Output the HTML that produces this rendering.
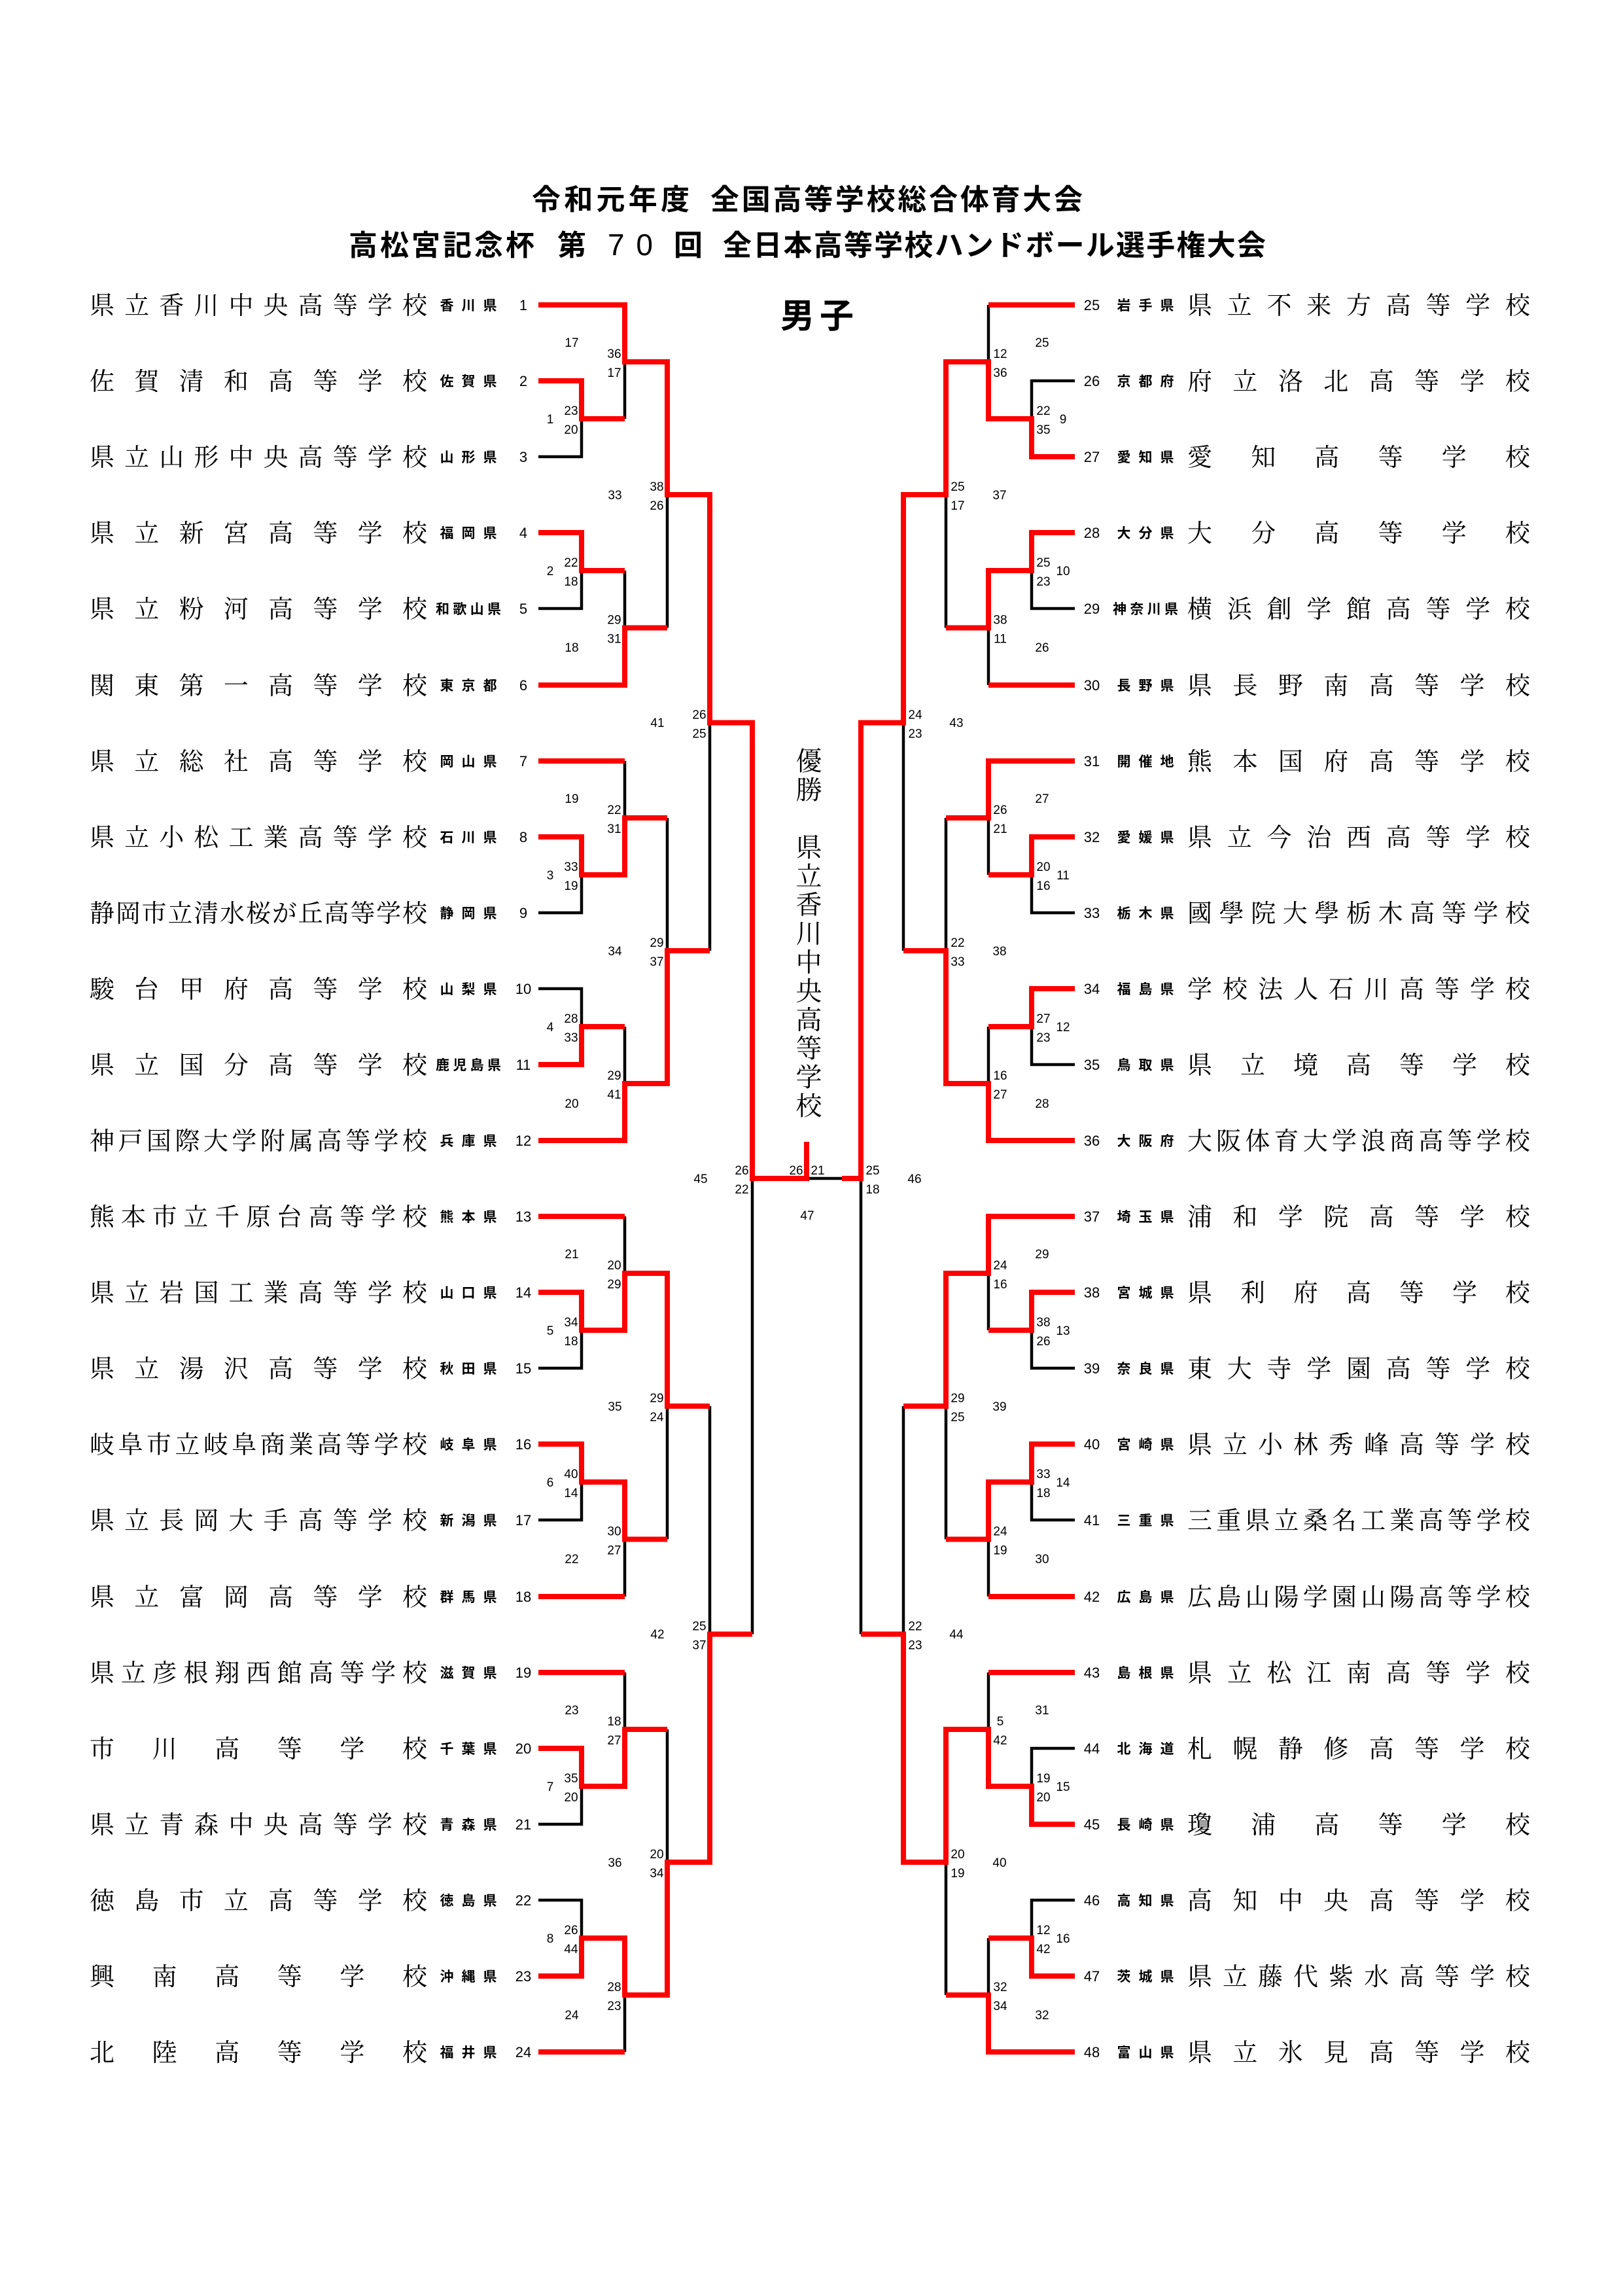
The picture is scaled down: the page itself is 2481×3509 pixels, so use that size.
<!DOCTYPE html>
<html lang="ja">
<head>
<meta charset="utf-8">
<style>
html,body{margin:0;padding:0;background:#fff;}
body{width:2481px;height:3509px;position:relative;overflow:hidden;}
svg{position:absolute;left:0;top:0;}
.nm{font-family:"Liberation Serif","Noto Serif CJK SC",serif;font-size:38px;fill:#000;}
.pf{font-family:"Liberation Sans","Noto Sans CJK JP",sans-serif;font-size:21px;font-weight:bold;fill:#000;text-anchor:middle;}
.rn{font-family:"Liberation Sans",sans-serif;font-size:22px;fill:#000;text-anchor:middle;}
.sc{font-family:"Liberation Sans",sans-serif;font-size:19px;fill:#000;text-anchor:middle;}
.tt{font-family:"Liberation Sans","Noto Sans CJK JP",sans-serif;font-size:44px;font-weight:bold;fill:#000;}
.win{position:absolute;left:1213px;top:1142px;width:40px;writing-mode:vertical-rl;text-orientation:upright;font-family:"Liberation Serif","Noto Serif CJK SC",serif;font-size:40px;line-height:40px;letter-spacing:3.9px;color:#000;white-space:nowrap;}
</style>
</head>
<body>
<svg width="2481" height="3509" viewBox="0 0 2481 3509" xmlns="http://www.w3.org/2000/svg">
<!-- Titles -->
<text class="tt" x="813" y="320" textLength="241" lengthAdjust="spacing">令和元年度</text>
<text class="tt" x="1086" y="320" textLength="569" lengthAdjust="spacing">全国高等学校総合体育大会</text>
<text class="tt" x="533" y="390" textLength="284" lengthAdjust="spacing">高松宮記念杯</text>
<text class="tt" x="852" y="390">第</text>
<text x="929" y="390" textLength="69" lengthAdjust="spacing" style="font-family:'Liberation Sans',sans-serif;font-size:46px;">70</text>
<text class="tt" x="1030" y="390">回</text>
<text class="tt" x="1105" y="390" textLength="830" lengthAdjust="spacing">全日本高等学校ハンドボール選手権大会</text>
<text class="tt" x="1193" y="501" textLength="112" lengthAdjust="spacing" style="font-size:52px;">男子</text>

<!-- Black lines -->
<path fill="none" stroke="#000" stroke-width="4.5" stroke-linejoin="miter" d="
M823 698H889V640 M955 640V553 M823 930H889V872 M955 872V959.5 M1020 959.5V756
M823 1395H889V1337 M955 1163V1250 M823 1511H889V1569 M955 1569V1656 M1020 1250V1453 M1085 1453V1104.5
M823 2091H889V2033 M955 1859V1946 M823 2323H889V2265 M955 2440V2352.5 M1020 2352.5V2149
M823 2788H889V2730 M955 2556V2643 M823 2904H889V2962 M955 3136V3049 M1020 2643V2846
M1085 2149V2497.5 M1150 2497.5V1801 M1233 1801H1290
M1643 582H1577V640 M1511 466V553 M1643 930H1577V872 M1511 1047V959.5 M1446 959.5V756
M1643 1395H1577V1337 M1511 1337V1250 M1643 1627H1577V1569 M1511 1569V1656 M1446 1250V1453 M1381 1453V1104.5
M1643 2091H1577V2033 M1511 2033V1946 M1643 2323H1577V2265 M1511 2440V2352.5 M1446 2352.5V2149
M1643 2672H1577V2730 M1511 2556V2643 M1643 2904H1577V2962 M1511 2962V3049 M1446 3049V2846
M1381 2149V2497.5 M1316 2497.5V1801
"/>
<!-- Red lines -->
<path fill="none" stroke="#ff0000" stroke-width="8" stroke-linejoin="miter" d="
M823 466H955V553H1020V756H1085V1104.5H1150V1801H1233V1745
M823 582H889V640H955
M823 814H889V872H955
M823 1047H955V959.5H1020
M823 1163H955
M823 1279H889V1337H955V1250H1020
M823 1627H889V1569H955
M823 1743H955V1656H1020V1453H1085
M823 1859H955
M823 1975H889V2033H955V1946H1020V2149H1085
M823 2207H889V2265H955V2352.5H1020
M823 2440H955
M823 2556H955
M823 2672H889V2730H955V2643H1020
M823 3020H889V2962H955V3049H1020V2846H1085V2497.5H1150
M823 3136H955
M1643 466H1511
M1643 698H1577V640H1511V553H1446V756H1381V1104.5H1316V1801H1287
M1643 814H1577V872H1511V959.5H1446
M1643 1047H1511
M1643 1163H1511V1250H1446
M1643 1279H1577V1337H1511
M1643 1511H1577V1569H1511
M1643 1743H1511V1656H1446V1453H1381
M1643 1859H1511V1946H1446V2149H1381
M1643 1975H1577V2033H1511
M1643 2207H1577V2265H1511V2352.5H1446
M1643 2440H1511
M1643 2556H1511
M1643 2788H1577V2730H1511V2643H1446V2846H1381V2497.5H1316
M1643 3020H1577V2962H1511
M1643 3136H1511V3049H1446
"/>

<!-- Left names -->
<text class="nm" x="137" y="480" textLength="516" lengthAdjust="spacing">県立香川中央高等学校</text>
<text class="nm" x="137" y="596" textLength="516" lengthAdjust="spacing">佐賀清和高等学校</text>
<text class="nm" x="137" y="712" textLength="516" lengthAdjust="spacing">県立山形中央高等学校</text>
<text class="nm" x="137" y="828" textLength="516" lengthAdjust="spacing">県立新宮高等学校</text>
<text class="nm" x="137" y="944" textLength="516" lengthAdjust="spacing">県立粉河高等学校</text>
<text class="nm" x="137" y="1061" textLength="516" lengthAdjust="spacing">関東第一高等学校</text>
<text class="nm" x="137" y="1177" textLength="516" lengthAdjust="spacing">県立総社高等学校</text>
<text class="nm" x="137" y="1293" textLength="516" lengthAdjust="spacing">県立小松工業高等学校</text>
<text class="nm" x="137" y="1409" textLength="516" lengthAdjust="spacing">静岡市立清水桜が丘高等学校</text>
<text class="nm" x="137" y="1525" textLength="516" lengthAdjust="spacing">駿台甲府高等学校</text>
<text class="nm" x="137" y="1641" textLength="516" lengthAdjust="spacing">県立国分高等学校</text>
<text class="nm" x="137" y="1757" textLength="516" lengthAdjust="spacing">神戸国際大学附属高等学校</text>
<text class="nm" x="137" y="1873" textLength="516" lengthAdjust="spacing">熊本市立千原台高等学校</text>
<text class="nm" x="137" y="1989" textLength="516" lengthAdjust="spacing">県立岩国工業高等学校</text>
<text class="nm" x="137" y="2105" textLength="516" lengthAdjust="spacing">県立湯沢高等学校</text>
<text class="nm" x="137" y="2221" textLength="516" lengthAdjust="spacing">岐阜市立岐阜商業高等学校</text>
<text class="nm" x="137" y="2337" textLength="516" lengthAdjust="spacing">県立長岡大手高等学校</text>
<text class="nm" x="137" y="2454" textLength="516" lengthAdjust="spacing">県立富岡高等学校</text>
<text class="nm" x="137" y="2570" textLength="516" lengthAdjust="spacing">県立彦根翔西館高等学校</text>
<text class="nm" x="137" y="2686" textLength="516" lengthAdjust="spacing">市川高等学校</text>
<text class="nm" x="137" y="2802" textLength="516" lengthAdjust="spacing">県立青森中央高等学校</text>
<text class="nm" x="137" y="2918" textLength="516" lengthAdjust="spacing">徳島市立高等学校</text>
<text class="nm" x="137" y="3034" textLength="516" lengthAdjust="spacing">興南高等学校</text>
<text class="nm" x="137" y="3150" textLength="516" lengthAdjust="spacing">北陸高等学校</text>

<!-- Left prefectures -->
<text class="pf" x="716" y="474" textLength="87" lengthAdjust="spacing">香川県</text>
<text class="pf" x="716" y="590" textLength="87" lengthAdjust="spacing">佐賀県</text>
<text class="pf" x="716" y="706" textLength="87" lengthAdjust="spacing">山形県</text>
<text class="pf" x="716" y="822" textLength="87" lengthAdjust="spacing">福岡県</text>
<text class="pf" x="716" y="938" textLength="100" lengthAdjust="spacing">和歌山県</text>
<text class="pf" x="716" y="1055" textLength="87" lengthAdjust="spacing">東京都</text>
<text class="pf" x="716" y="1171" textLength="87" lengthAdjust="spacing">岡山県</text>
<text class="pf" x="716" y="1287" textLength="87" lengthAdjust="spacing">石川県</text>
<text class="pf" x="716" y="1403" textLength="87" lengthAdjust="spacing">静岡県</text>
<text class="pf" x="716" y="1519" textLength="87" lengthAdjust="spacing">山梨県</text>
<text class="pf" x="716" y="1635" textLength="100" lengthAdjust="spacing">鹿児島県</text>
<text class="pf" x="716" y="1751" textLength="87" lengthAdjust="spacing">兵庫県</text>
<text class="pf" x="716" y="1867" textLength="87" lengthAdjust="spacing">熊本県</text>
<text class="pf" x="716" y="1983" textLength="87" lengthAdjust="spacing">山口県</text>
<text class="pf" x="716" y="2099" textLength="87" lengthAdjust="spacing">秋田県</text>
<text class="pf" x="716" y="2215" textLength="87" lengthAdjust="spacing">岐阜県</text>
<text class="pf" x="716" y="2331" textLength="87" lengthAdjust="spacing">新潟県</text>
<text class="pf" x="716" y="2448" textLength="87" lengthAdjust="spacing">群馬県</text>
<text class="pf" x="716" y="2564" textLength="87" lengthAdjust="spacing">滋賀県</text>
<text class="pf" x="716" y="2680" textLength="87" lengthAdjust="spacing">千葉県</text>
<text class="pf" x="716" y="2796" textLength="87" lengthAdjust="spacing">青森県</text>
<text class="pf" x="716" y="2912" textLength="87" lengthAdjust="spacing">徳島県</text>
<text class="pf" x="716" y="3028" textLength="87" lengthAdjust="spacing">沖縄県</text>
<text class="pf" x="716" y="3144" textLength="87" lengthAdjust="spacing">福井県</text>

<!-- Left row numbers -->
<text class="rn" x="800" y="474">1</text>
<text class="rn" x="800" y="590">2</text>
<text class="rn" x="800" y="706">3</text>
<text class="rn" x="800" y="822">4</text>
<text class="rn" x="800" y="938">5</text>
<text class="rn" x="800" y="1055">6</text>
<text class="rn" x="800" y="1171">7</text>
<text class="rn" x="800" y="1287">8</text>
<text class="rn" x="800" y="1403">9</text>
<text class="rn" x="800" y="1519">10</text>
<text class="rn" x="800" y="1635">11</text>
<text class="rn" x="800" y="1751">12</text>
<text class="rn" x="800" y="1867">13</text>
<text class="rn" x="800" y="1983">14</text>
<text class="rn" x="800" y="2099">15</text>
<text class="rn" x="800" y="2215">16</text>
<text class="rn" x="800" y="2331">17</text>
<text class="rn" x="800" y="2448">18</text>
<text class="rn" x="800" y="2564">19</text>
<text class="rn" x="800" y="2680">20</text>
<text class="rn" x="800" y="2796">21</text>
<text class="rn" x="800" y="2912">22</text>
<text class="rn" x="800" y="3028">23</text>
<text class="rn" x="800" y="3144">24</text>

<!-- Right row numbers -->
<text class="rn" x="1669" y="474">25</text>
<text class="rn" x="1669" y="590">26</text>
<text class="rn" x="1669" y="706">27</text>
<text class="rn" x="1669" y="822">28</text>
<text class="rn" x="1669" y="938">29</text>
<text class="rn" x="1669" y="1055">30</text>
<text class="rn" x="1669" y="1171">31</text>
<text class="rn" x="1669" y="1287">32</text>
<text class="rn" x="1669" y="1403">33</text>
<text class="rn" x="1669" y="1519">34</text>
<text class="rn" x="1669" y="1635">35</text>
<text class="rn" x="1669" y="1751">36</text>
<text class="rn" x="1669" y="1867">37</text>
<text class="rn" x="1669" y="1983">38</text>
<text class="rn" x="1669" y="2099">39</text>
<text class="rn" x="1669" y="2215">40</text>
<text class="rn" x="1669" y="2331">41</text>
<text class="rn" x="1669" y="2448">42</text>
<text class="rn" x="1669" y="2564">43</text>
<text class="rn" x="1669" y="2680">44</text>
<text class="rn" x="1669" y="2796">45</text>
<text class="rn" x="1669" y="2912">46</text>
<text class="rn" x="1669" y="3028">47</text>
<text class="rn" x="1669" y="3144">48</text>

<!-- Right prefectures -->
<text class="pf" x="1751" y="474" textLength="87" lengthAdjust="spacing">岩手県</text>
<text class="pf" x="1751" y="590" textLength="87" lengthAdjust="spacing">京都府</text>
<text class="pf" x="1751" y="706" textLength="87" lengthAdjust="spacing">愛知県</text>
<text class="pf" x="1751" y="822" textLength="87" lengthAdjust="spacing">大分県</text>
<text class="pf" x="1751" y="938" textLength="100" lengthAdjust="spacing">神奈川県</text>
<text class="pf" x="1751" y="1055" textLength="87" lengthAdjust="spacing">長野県</text>
<text class="pf" x="1751" y="1171" textLength="87" lengthAdjust="spacing">開催地</text>
<text class="pf" x="1751" y="1287" textLength="87" lengthAdjust="spacing">愛媛県</text>
<text class="pf" x="1751" y="1403" textLength="87" lengthAdjust="spacing">栃木県</text>
<text class="pf" x="1751" y="1519" textLength="87" lengthAdjust="spacing">福島県</text>
<text class="pf" x="1751" y="1635" textLength="87" lengthAdjust="spacing">鳥取県</text>
<text class="pf" x="1751" y="1751" textLength="87" lengthAdjust="spacing">大阪府</text>
<text class="pf" x="1751" y="1867" textLength="87" lengthAdjust="spacing">埼玉県</text>
<text class="pf" x="1751" y="1983" textLength="87" lengthAdjust="spacing">宮城県</text>
<text class="pf" x="1751" y="2099" textLength="87" lengthAdjust="spacing">奈良県</text>
<text class="pf" x="1751" y="2215" textLength="87" lengthAdjust="spacing">宮崎県</text>
<text class="pf" x="1751" y="2331" textLength="87" lengthAdjust="spacing">三重県</text>
<text class="pf" x="1751" y="2448" textLength="87" lengthAdjust="spacing">広島県</text>
<text class="pf" x="1751" y="2564" textLength="87" lengthAdjust="spacing">島根県</text>
<text class="pf" x="1751" y="2680" textLength="87" lengthAdjust="spacing">北海道</text>
<text class="pf" x="1751" y="2796" textLength="87" lengthAdjust="spacing">長崎県</text>
<text class="pf" x="1751" y="2912" textLength="87" lengthAdjust="spacing">高知県</text>
<text class="pf" x="1751" y="3028" textLength="87" lengthAdjust="spacing">茨城県</text>
<text class="pf" x="1751" y="3144" textLength="87" lengthAdjust="spacing">富山県</text>

<!-- Right names -->
<text class="nm" x="1815" y="480" textLength="524" lengthAdjust="spacing">県立不来方高等学校</text>
<text class="nm" x="1815" y="596" textLength="524" lengthAdjust="spacing">府立洛北高等学校</text>
<text class="nm" x="1815" y="712" textLength="524" lengthAdjust="spacing">愛知高等学校</text>
<text class="nm" x="1815" y="828" textLength="524" lengthAdjust="spacing">大分高等学校</text>
<text class="nm" x="1815" y="944" textLength="524" lengthAdjust="spacing">横浜創学館高等学校</text>
<text class="nm" x="1815" y="1061" textLength="524" lengthAdjust="spacing">県長野南高等学校</text>
<text class="nm" x="1815" y="1177" textLength="524" lengthAdjust="spacing">熊本国府高等学校</text>
<text class="nm" x="1815" y="1293" textLength="524" lengthAdjust="spacing">県立今治西高等学校</text>
<text class="nm" x="1815" y="1409" textLength="524" lengthAdjust="spacing">國學院大學栃木高等学校</text>
<text class="nm" x="1815" y="1525" textLength="524" lengthAdjust="spacing">学校法人石川高等学校</text>
<text class="nm" x="1815" y="1641" textLength="524" lengthAdjust="spacing">県立境高等学校</text>
<text class="nm" x="1815" y="1757" textLength="524" lengthAdjust="spacing">大阪体育大学浪商高等学校</text>
<text class="nm" x="1815" y="1873" textLength="524" lengthAdjust="spacing">浦和学院高等学校</text>
<text class="nm" x="1815" y="1989" textLength="524" lengthAdjust="spacing">県利府高等学校</text>
<text class="nm" x="1815" y="2105" textLength="524" lengthAdjust="spacing">東大寺学園高等学校</text>
<text class="nm" x="1815" y="2221" textLength="524" lengthAdjust="spacing">県立小林秀峰高等学校</text>
<text class="nm" x="1815" y="2337" textLength="524" lengthAdjust="spacing">三重県立桑名工業高等学校</text>
<text class="nm" x="1815" y="2454" textLength="524" lengthAdjust="spacing">広島山陽学園山陽高等学校</text>
<text class="nm" x="1815" y="2570" textLength="524" lengthAdjust="spacing">県立松江南高等学校</text>
<text class="nm" x="1815" y="2686" textLength="524" lengthAdjust="spacing">札幌静修高等学校</text>
<text class="nm" x="1815" y="2802" textLength="524" lengthAdjust="spacing">瓊浦高等学校</text>
<text class="nm" x="1815" y="2918" textLength="524" lengthAdjust="spacing">高知中央高等学校</text>
<text class="nm" x="1815" y="3034" textLength="524" lengthAdjust="spacing">県立藤代紫水高等学校</text>
<text class="nm" x="1815" y="3150" textLength="524" lengthAdjust="spacing">県立氷見高等学校</text>

<!-- Left scores col1 -->
<text class="sc" x="873" y="634">23</text><text class="sc" x="873" y="663">20</text>
<text class="sc" x="873" y="866">22</text><text class="sc" x="873" y="895">18</text>
<text class="sc" x="873" y="1331">33</text><text class="sc" x="873" y="1360">19</text>
<text class="sc" x="873" y="1563">28</text><text class="sc" x="873" y="1592">33</text>
<text class="sc" x="873" y="2027">34</text><text class="sc" x="873" y="2056">18</text>
<text class="sc" x="873" y="2259">40</text><text class="sc" x="873" y="2288">14</text>
<text class="sc" x="873" y="2724">35</text><text class="sc" x="873" y="2753">20</text>
<text class="sc" x="873" y="2956">26</text><text class="sc" x="873" y="2985">44</text>
<!-- Left scores col2 -->
<text class="sc" x="939" y="547">36</text><text class="sc" x="939" y="576">17</text>
<text class="sc" x="939" y="953.5">29</text><text class="sc" x="939" y="982.5">31</text>
<text class="sc" x="939" y="1244">22</text><text class="sc" x="939" y="1273">31</text>
<text class="sc" x="939" y="1650">29</text><text class="sc" x="939" y="1679">41</text>
<text class="sc" x="939" y="1940">20</text><text class="sc" x="939" y="1969">29</text>
<text class="sc" x="939" y="2346.5">30</text><text class="sc" x="939" y="2375.5">27</text>
<text class="sc" x="939" y="2637">18</text><text class="sc" x="939" y="2666">27</text>
<text class="sc" x="939" y="3043">28</text><text class="sc" x="939" y="3072">23</text>
<!-- Left scores col3 -->
<text class="sc" x="1004" y="750">38</text><text class="sc" x="1004" y="779">26</text>
<text class="sc" x="1004" y="1447">29</text><text class="sc" x="1004" y="1476">37</text>
<text class="sc" x="1004" y="2143">29</text><text class="sc" x="1004" y="2172">24</text>
<text class="sc" x="1004" y="2840">20</text><text class="sc" x="1004" y="2869">34</text>
<!-- Left scores col4/col5 -->
<text class="sc" x="1069" y="1098.5">26</text><text class="sc" x="1069" y="1127.5">25</text>
<text class="sc" x="1069" y="2491.5">25</text><text class="sc" x="1069" y="2520.5">37</text>
<text class="sc" x="1134" y="1795">26</text><text class="sc" x="1134" y="1824">22</text>
<!-- Final -->
<text class="sc" x="1217" y="1795">26</text><text class="sc" x="1250" y="1795">21</text>

<!-- Right scores col1 -->
<text class="sc" x="1595" y="634">22</text><text class="sc" x="1595" y="663">35</text>
<text class="sc" x="1595" y="866">25</text><text class="sc" x="1595" y="895">23</text>
<text class="sc" x="1595" y="1331">20</text><text class="sc" x="1595" y="1360">16</text>
<text class="sc" x="1595" y="1563">27</text><text class="sc" x="1595" y="1592">23</text>
<text class="sc" x="1595" y="2027">38</text><text class="sc" x="1595" y="2056">26</text>
<text class="sc" x="1595" y="2259">33</text><text class="sc" x="1595" y="2288">18</text>
<text class="sc" x="1595" y="2724">19</text><text class="sc" x="1595" y="2753">20</text>
<text class="sc" x="1595" y="2956">12</text><text class="sc" x="1595" y="2985">42</text>
<!-- Right scores col2 -->
<text class="sc" x="1529" y="547">12</text><text class="sc" x="1529" y="576">36</text>
<text class="sc" x="1529" y="953.5">38</text><text class="sc" x="1529" y="982.5">11</text>
<text class="sc" x="1529" y="1244">26</text><text class="sc" x="1529" y="1273">21</text>
<text class="sc" x="1529" y="1650">16</text><text class="sc" x="1529" y="1679">27</text>
<text class="sc" x="1529" y="1940">24</text><text class="sc" x="1529" y="1969">16</text>
<text class="sc" x="1529" y="2346.5">24</text><text class="sc" x="1529" y="2375.5">19</text>
<text class="sc" x="1529" y="2637">5</text><text class="sc" x="1529" y="2666">42</text>
<text class="sc" x="1529" y="3043">32</text><text class="sc" x="1529" y="3072">34</text>
<!-- Right scores col3 -->
<text class="sc" x="1464" y="750">25</text><text class="sc" x="1464" y="779">17</text>
<text class="sc" x="1464" y="1447">22</text><text class="sc" x="1464" y="1476">33</text>
<text class="sc" x="1464" y="2143">29</text><text class="sc" x="1464" y="2172">25</text>
<text class="sc" x="1464" y="2840">20</text><text class="sc" x="1464" y="2869">19</text>
<!-- Right scores col4/col5 -->
<text class="sc" x="1399" y="1098.5">24</text><text class="sc" x="1399" y="1127.5">23</text>
<text class="sc" x="1399" y="2491.5">22</text><text class="sc" x="1399" y="2520.5">23</text>
<text class="sc" x="1334" y="1795">25</text><text class="sc" x="1334" y="1824">18</text>

<!-- Game numbers left -->
<text class="sc" x="841" y="647">1</text>
<text class="sc" x="841" y="879">2</text>
<text class="sc" x="841" y="1344">3</text>
<text class="sc" x="841" y="1576">4</text>
<text class="sc" x="841" y="2040">5</text>
<text class="sc" x="841" y="2272">6</text>
<text class="sc" x="841" y="2737">7</text>
<text class="sc" x="841" y="2969">8</text>
<text class="sc" x="874" y="530">17</text>
<text class="sc" x="874" y="996">18</text>
<text class="sc" x="874" y="1227">19</text>
<text class="sc" x="874" y="1693">20</text>
<text class="sc" x="874" y="1923">21</text>
<text class="sc" x="874" y="2389">22</text>
<text class="sc" x="874" y="2620">23</text>
<text class="sc" x="874" y="3086">24</text>
<text class="sc" x="940" y="763">33</text>
<text class="sc" x="940" y="1460">34</text>
<text class="sc" x="940" y="2156">35</text>
<text class="sc" x="940" y="2853">36</text>
<text class="sc" x="1005" y="1111">41</text>
<text class="sc" x="1005" y="2504">42</text>
<text class="sc" x="1071" y="1808">45</text>
<text class="sc" x="1234" y="1864">47</text>
<!-- Game numbers right -->
<text class="sc" x="1625" y="647">9</text>
<text class="sc" x="1625" y="879">10</text>
<text class="sc" x="1625" y="1344">11</text>
<text class="sc" x="1625" y="1576">12</text>
<text class="sc" x="1625" y="2040">13</text>
<text class="sc" x="1625" y="2272">14</text>
<text class="sc" x="1625" y="2737">15</text>
<text class="sc" x="1625" y="2969">16</text>
<text class="sc" x="1593" y="530">25</text>
<text class="sc" x="1593" y="996">26</text>
<text class="sc" x="1593" y="1227">27</text>
<text class="sc" x="1593" y="1693">28</text>
<text class="sc" x="1593" y="1923">29</text>
<text class="sc" x="1593" y="2389">30</text>
<text class="sc" x="1593" y="2620">31</text>
<text class="sc" x="1593" y="3086">32</text>
<text class="sc" x="1528" y="763">37</text>
<text class="sc" x="1528" y="1460">38</text>
<text class="sc" x="1528" y="2156">39</text>
<text class="sc" x="1528" y="2853">40</text>
<text class="sc" x="1462" y="1111">43</text>
<text class="sc" x="1462" y="2504">44</text>
<text class="sc" x="1398" y="1808">46</text>
</svg>
<div class="win">優勝　県立香川中央高等学校</div>
</body>
</html>
